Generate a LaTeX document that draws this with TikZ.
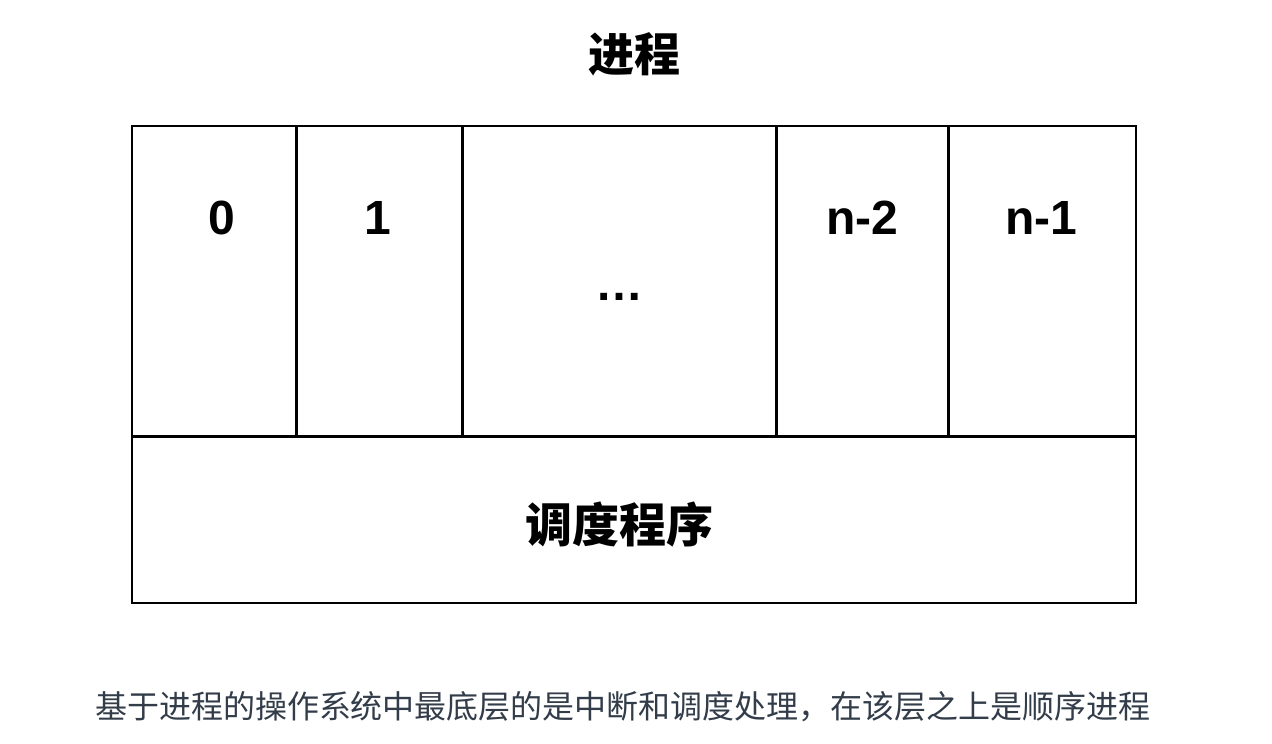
\documentclass[tikz,border=0pt]{standalone}
\usepackage{fontspec}
\setmainfont{Liberation Sans}
\newfontfamily\cjk{Noto Sans CJK SC}
\usetikzlibrary{positioning}
\definecolor{captiongray}{HTML}{333D4A}

\begin{document}
\begin{tikzpicture}[x=1pt,y=-1pt,
    cell/.style={inner sep=0pt,outer sep=0pt,minimum height=310pt},
    num/.style={font=\fontsize{48}{48}\selectfont\bfseries},
    big/.style={font=\cjk\fontsize{47}{47}\selectfont\bfseries}]
    \useasboundingbox (0,0) rectangle (1272,744);
    % process slots
    \node[cell,minimum width=164pt,anchor=north west] (c0) at (132,126) {};
    \node[cell,minimum width=166pt,right=0pt of c0] (c1) {};
    \node[cell,minimum width=314pt,right=0pt of c1] (c2) {};
    \node[cell,minimum width=172pt,right=0pt of c2] (c3) {};
    \node[cell,minimum width=188pt,right=0pt of c3] (c4) {};
    \node[inner sep=0pt,outer sep=0pt,minimum width=1004pt,minimum height=167pt,
          below=0pt of c0.south west,anchor=north west] (sched) {};
    \draw[line width=2pt] (c0.north west) rectangle (sched.south -| c4.east);
    \draw[line width=3pt] (c0.south west) -- (c4.south east);
    \foreach \i in {0,...,3}
        \draw[line width=3pt] (c\i.north east) -- (c\i.south east);
    % labels
    \node[num] (l0) at (222,218) {0};
    \node[num] (l1) at (378,218) {1};
    \node[num] (l2) at (619,297) {…};
    \node[num] (l3) at (862,218) {n-2};
    \node[num] (l4) at (1041,218) {n-1};
    \node[big] (schedtext) at (619,525) {调度程序};
    \node[font=\cjk\fontsize{46}{46}\selectfont\bfseries] (title) at (634,54) {进程};
    \node[font=\cjk\fontsize{32}{32}\selectfont,text=captiongray] (caption) at (623,707)
        {基于进程的操作系统中最底层的是中断和调度处理，在该层之上是顺序进程};
\end{tikzpicture}
\end{document}
